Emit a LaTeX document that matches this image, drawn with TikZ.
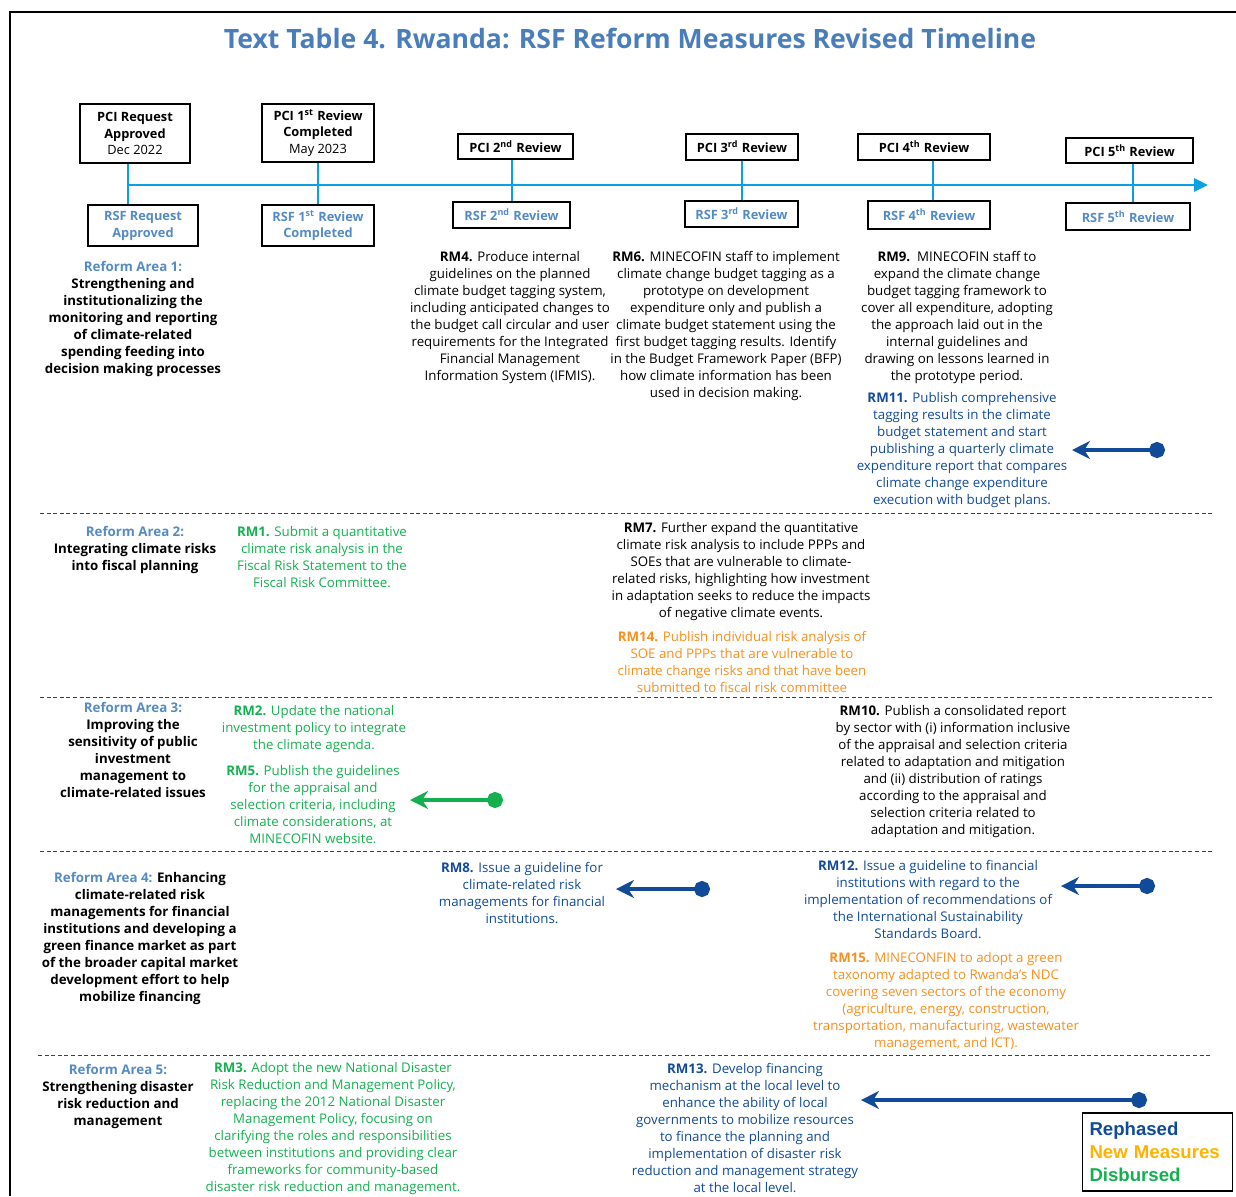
\documentclass[tikz,border=0pt]{standalone}
\usepackage{fontspec}
\setmainfont{Open Sans}
\newfontfamily\legendfont{Liberation Sans}
\usetikzlibrary{arrows.meta}
\definecolor{titleblue}{RGB}{74,126,187}
\definecolor{areablue}{RGB}{84,139,196}
\definecolor{rephblue}{RGB}{16,74,152}
\definecolor{disgreen}{RGB}{20,176,80}
\definecolor{neworange}{RGB}{247,143,30}
\definecolor{legendgold}{RGB}{255,178,0}
\definecolor{tlblue}{RGB}{10,160,226}
\newcommand{\bodyfont}{\fontsize{6.65}{8.5}\selectfont}
\begin{document}
\begin{tikzpicture}[x=0.5pt,y=-0.5pt,
  pcibox/.style={draw=black, line width=0.7pt, fill=white, align=center, inner sep=0pt,
    font=\fontsize{6.4}{8.4}\selectfont\bfseries},
  rsfbox/.style={pcibox, text=areablue},
  txt/.style={align=center, inner sep=0pt, anchor=north, font=\bodyfont},
  areatxt/.style={txt, font=\bodyfont\bfseries},
  sep/.style={draw=black!75, line width=0.5pt, dash pattern=on 2pt off 1.3pt},
  tick/.style={draw=tlblue, line width=1.4pt},
  rarrow/.style={draw=rephblue, line width=2.4pt, arrows={Circle[length=8pt]-Stealth[length=9pt,width=9pt]}},
  garrow/.style={draw=disgreen, line width=2.4pt, arrows={Circle[length=8pt]-Stealth[length=9pt,width=9pt]}}
]
\useasboundingbox (0,0) rectangle (1236,1196);
% frame
\draw[line width=1pt] (10,1196) -- (10,12) -- (1236,12);
% title
\node[font=\fontsize{13.3}{16}\selectfont\bfseries, text=titleblue, inner sep=0pt] (title) at (630,38)
  {Text Table 4. Rwanda: RSF Reform Measures Revised Timeline};

% timeline
\coordinate (v1) at (128,185);
\coordinate (v2) at (318,185);
\coordinate (v3) at (512,185);
\coordinate (v4) at (742,185);
\coordinate (v5) at (933,185);
\coordinate (v6) at (1133,185);
\coordinate (tlend) at (1208,185);

% PCI boxes
\node[pcibox, minimum width=55pt, minimum height=29.5pt] (p1) at (135,133.5)
  {PCI Request\\Approved\\\mdseries Dec 2022};
\node[pcibox, minimum width=56pt, minimum height=29pt] (p2) at (318,133)
  {PCI 1\textsuperscript{st} Review\\Completed\\\mdseries May 2023};
\node[pcibox, minimum width=57.5pt, minimum height=12.5pt] (p3) at (515.5,146.5)
  {PCI 2\textsuperscript{nd} Review};
\node[pcibox, minimum width=56pt, minimum height=13pt] (p4) at (742,147)
  {PCI 3\textsuperscript{rd} Review};
\node[pcibox, minimum width=66pt, minimum height=13pt] (p5) at (924,147)
  {PCI 4\textsuperscript{th} Review};
\node[pcibox, minimum width=63.5pt, minimum height=12.5pt] (p6) at (1129.5,150.5)
  {PCI 5\textsuperscript{th} Review};

% RSF boxes
\node[rsfbox, minimum width=55pt, minimum height=20.5pt] (r1) at (143,225.5)
  {RSF Request\\Approved};
\node[rsfbox, minimum width=56pt, minimum height=20.5pt] (r2) at (318,225.5)
  {RSF 1\textsuperscript{st} Review\\Completed};
\node[rsfbox, minimum width=58.5pt, minimum height=13pt] (r3) at (511.5,215)
  {RSF 2\textsuperscript{nd} Review};
\node[rsfbox, minimum width=56.5pt, minimum height=13pt] (r4) at (741.5,214)
  {RSF 3\textsuperscript{rd} Review};
\node[rsfbox, minimum width=61pt, minimum height=14pt] (r5) at (929,215)
  {RSF 4\textsuperscript{th} Review};
\node[rsfbox, minimum width=62pt, minimum height=13.5pt] (r6) at (1128,216.5)
  {RSF 5\textsuperscript{th} Review};

\draw[tick, -{Triangle[length=7pt,width=6.5pt]}] (v1) -- (tlend);
\foreach \i in {1,...,6}{
  \draw[tick] (p\i.south -| v\i) -- (r\i.north -| v\i);
}

% Row 1
\node[areatxt] (ra1) at (133,261)
  {{\color{areablue}Reform Area 1:}\\Strengthening and\\institutionalizing the\\monitoring and reporting\\of climate-related\\spending feeding into\\decision making processes};
\node[txt] (rm4) at (510,251)
  {\textbf{RM4.} Produce internal\\guidelines on the planned\\climate budget tagging system,\\including anticipated changes to\\the budget call circular and user\\requirements for the Integrated\\Financial Management\\Information System (IFMIS).};
\node[txt] (rm6) at (726,251)
  {\textbf{RM6.} MINECOFIN staff to implement\\climate change budget tagging as a\\prototype on development\\expenditure only and publish a\\climate budget statement using the\\first budget tagging results. Identify\\in the Budget Framework Paper (BFP)\\how climate information has been\\used in decision making.};
\node[txt] (rm9) at (957,251)
  {\textbf{RM9.}\ \ MINECOFIN staff to\\expand the climate change\\budget tagging framework to\\cover all expenditure, adopting\\the approach laid out in the\\internal guidelines and\\drawing on lessons learned in\\the prototype period.};
\node[txt, text=rephblue] (rm11) at (962,392)
  {\textbf{RM11.} Publish comprehensive\\tagging results in the climate\\budget statement and start\\publishing a quarterly climate\\expenditure report that compares\\climate change expenditure\\execution with budget plans.};
\coordinate (a11s) at (1165,450);
\coordinate (a11e) at (1072,450);
\draw[rarrow] (a11s) -- (a11e);

\draw[sep] (40,513) -- (1212,513);

% Row 2
\node[areatxt] (ra2) at (135,526)
  {{\color{areablue}Reform Area 2:}\\Integrating climate risks\\into fiscal planning};
\node[txt, text=disgreen] (rm1) at (322,526)
  {\textbf{RM1.} Submit a quantitative\\climate risk analysis in the\\Fiscal Risk Statement to the\\Fiscal Risk Committee.};
\node[txt] (rm7) at (741,522)
  {\textbf{RM7.} Further expand the quantitative\\climate risk analysis to include PPPs and\\SOEs that are vulnerable to climate-\\related risks, highlighting how investment\\in adaptation seeks to reduce the impacts\\of negative climate events.};
\node[txt, text=neworange] (rm14) at (742,631)
  {\textbf{RM14.} Publish individual risk analysis of\\SOE and PPPs that are vulnerable to\\climate change risks and that have been\\submitted to fiscal risk committee};

\draw[sep] (40,697) -- (1212,697);

% Row 3
\node[areatxt] (ra3) at (133,702)
  {{\color{areablue}Reform Area 3:}\\Improving the\\sensitivity of public\\investment\\management to\\climate-related issues};
\node[txt, text=disgreen] (rm2) at (314,705)
  {\textbf{RM2.} Update the national\\investment policy to integrate\\the climate agenda.};
\node[txt, text=disgreen] (rm5) at (313,765)
  {\textbf{RM5.} Publish the guidelines\\for the appraisal and\\selection criteria, including\\climate considerations, at\\MINECOFIN website.};
\coordinate (a5s) at (503,800);
\coordinate (a5e) at (410,800);
\draw[garrow] (a5s) -- (a5e);
\node[txt] (rm10) at (953,705)
  {\textbf{RM10.} Publish a consolidated report\\by sector with (i) information inclusive\\of the appraisal and selection criteria\\related to adaptation and mitigation\\and (ii) distribution of ratings\\according to the appraisal and\\selection criteria related to\\adaptation and mitigation.};

\draw[sep] (40,851) -- (1212,851);

% Row 4
\node[areatxt] (ra4) at (140,872)
  {{\color{areablue}Reform Area 4:} Enhancing\\climate-related risk\\managements for financial\\institutions and developing a\\green finance market as part\\of the broader capital market\\development effort to help\\mobilize financing};
\node[txt, text=rephblue] (rm8) at (522,862)
  {\textbf{RM8.} Issue a guideline for\\climate-related risk\\managements for financial\\institutions.};
\coordinate (a8s) at (710,889);
\coordinate (a8e) at (616,889);
\draw[rarrow] (a8s) -- (a8e);
\node[txt, text=rephblue] (rm12) at (928,860)
  {\textbf{RM12.} Issue a guideline to financial\\institutions with regard to the\\implementation of recommendations of\\the International Sustainability\\Standards Board.};
\coordinate (a12s) at (1155,886);
\coordinate (a12e) at (1061,886);
\draw[rarrow] (a12s) -- (a12e);
\node[txt, text=neworange] (rm15) at (946,952)
  {\textbf{RM15.} MINECONFIN to adopt a green\\taxonomy adapted to Rwanda’s NDC\\covering seven sectors of the economy\\(agriculture, energy, construction,\\transportation, manufacturing, wastewater\\management, and ICT).};

\draw[sep] (38,1055) -- (1210,1055);

% Row 5
\node[areatxt] (ra5) at (118,1064)
  {{\color{areablue}Reform Area 5:}\\Strengthening disaster\\risk reduction and\\management};
\node[txt, text=disgreen] (rm3) at (333,1062)
  {\textbf{RM3.} Adopt the new National Disaster\\Risk Reduction and Management Policy,\\replacing the 2012 National Disaster\\Management Policy, focusing on\\clarifying the roles and responsibilities\\between institutions and providing clear\\frameworks for community-based\\disaster risk reduction and management.};
\node[txt, text=rephblue] (rm13) at (745,1063)
  {\textbf{RM13.} Develop financing\\mechanism at the local level to\\enhance the ability of local\\governments to mobilize resources\\to finance the planning and\\implementation of disaster risk\\reduction and management strategy\\at the local level.};
\coordinate (a13s) at (1147,1100);
\coordinate (a13e) at (861,1100);
\draw[rarrow] (a13s) -- (a13e);

% legend
\node[draw=black, line width=0.8pt, minimum width=75pt, minimum height=39pt,
  text width=68pt, align=left, inner sep=0pt,
  font=\legendfont\fontsize{9.3}{11.5}\selectfont\bfseries] (legend) at (1157.5,1152)
  {\mbox{\color{rephblue}Rephased}\\\mbox{\color{legendgold}New Measures}\\\mbox{\color{disgreen}Disbursed}};
\end{tikzpicture}
\end{document}
